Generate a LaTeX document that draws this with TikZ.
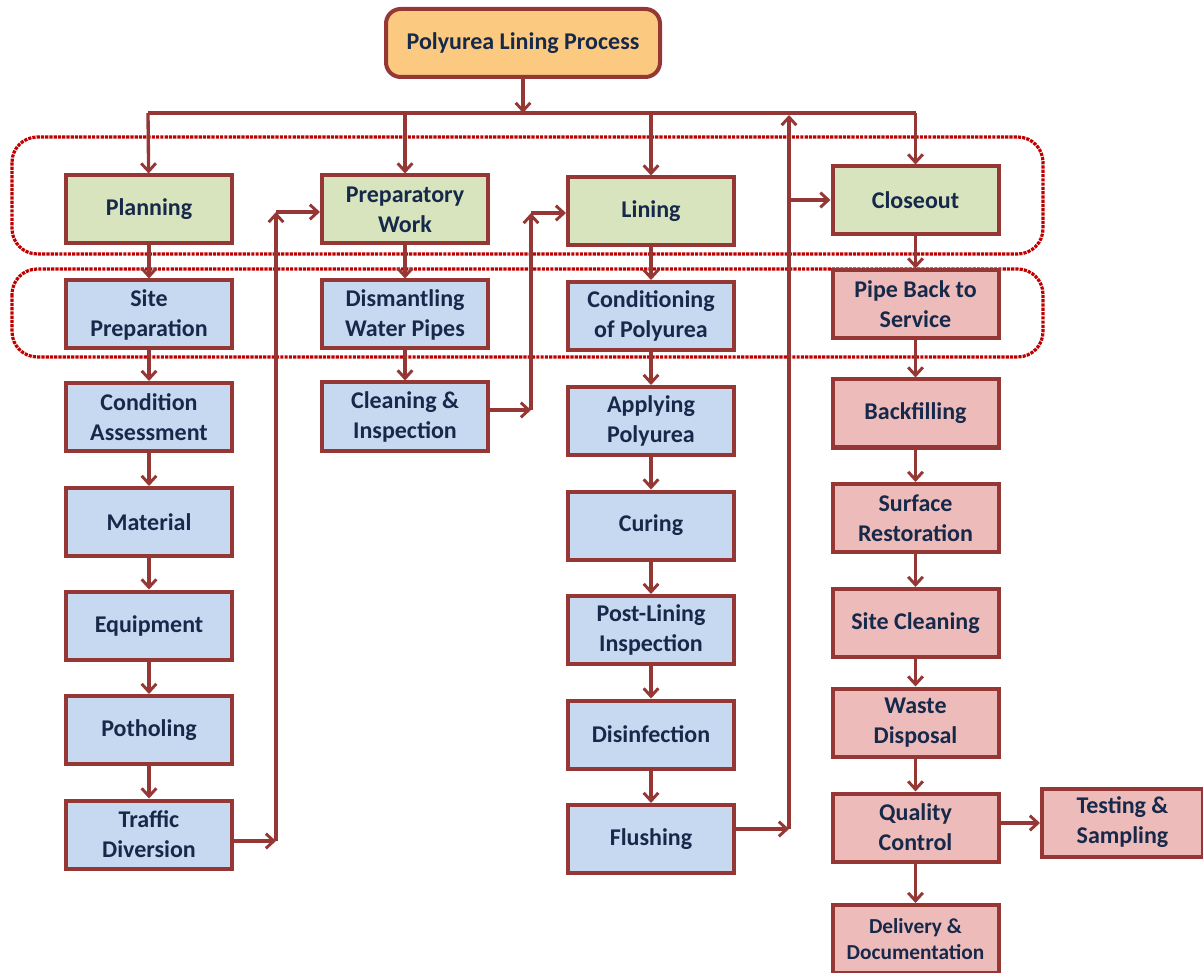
\documentclass[tikz,border=0pt]{standalone}
\usepackage{fontspec}
\setmainfont{Carlito}
\usetikzlibrary{arrows.meta}
\definecolor{bordc}{HTML}{953735}
\definecolor{txtc}{HTML}{17294A}
\definecolor{greenf}{HTML}{D7E4BD}
\definecolor{bluef}{HTML}{C6D9F1}
\definecolor{pinkf}{HTML}{EDBBBA}
\definecolor{orangef}{HTML}{FBC97F}
\definecolor{dotc}{HTML}{C00000}
\tikzset{
  box/.style={draw=bordc, line width=3pt, minimum width=124.5pt, minimum height=51pt,
    align=center, text=txtc, font=\fontsize{18pt}{22.5pt}\selectfont\bfseries, inner sep=2pt},
  gbox/.style={box, fill=greenf},
  bbox/.style={box, fill=bluef},
  pbox/.style={box, fill=pinkf},
  arr/.style={draw=bordc, line width=2.5pt, -{Straight Barb[length=6pt,width=11pt,line width=2.2pt]}},
  ln/.style={draw=bordc, line width=2.5pt},
  grp/.style={draw=dotc, line width=2.4pt, dash pattern=on 2.4pt off 0.8pt, rounded corners=19pt}
}
\begin{document}
\begin{tikzpicture}[x=0.75pt,y=-0.75pt]
\useasboundingbox (0,0) rectangle (1203,973);
% group frames
\draw[grp] (12,137) rectangle (1043,254);
\draw[grp] (12,269) rectangle (1043,357);
% title
\node[box, fill=orangef, rounded corners=11pt, minimum width=205.5pt] (title) at (523,43) {Polyurea Lining Process};
% column 1
\node[gbox] (plan) at (149,209.5) {Planning};
\node[bbox] (site) at (149,314.5) {Site\\Preparation};
\node[bbox] (cond) at (149,417) {Condition\\Assessment};
\node[bbox] (mat) at (149,522) {Material};
\node[bbox] (equip) at (149,625.5) {Equipment};
\node[bbox] (poth) at (149,730) {Potholing};
\node[bbox] (traf) at (149,834.5) {Traffic\\Diversion};
% column 2
\node[gbox] (prep) at (405,209.5) {Preparatory\\Work};
\node[bbox] (dism) at (405,314.5) {Dismantling\\Water Pipes};
\node[bbox] (clean) at (405,416.5) {Cleaning \&\\Inspection};
% column 3
\node[gbox] (lin) at (651,211.5) {Lining};
\node[bbox] (condp) at (651,316) {Conditioning\\of Polyurea};
\node[bbox] (appl) at (651,421) {Applying\\Polyurea};
\node[bbox] (cur) at (651,525.5) {Curing};
\node[bbox] (post) at (651,630) {Post-Lining\\Inspection};
\node[bbox] (disi) at (651,734.5) {Disinfection};
\node[bbox] (flush) at (651,839) {Flushing};
% column 4
\node[gbox] (close) at (915.5,200.5) {Closeout};
\node[pbox] (pipe) at (915.5,304.5) {Pipe Back to\\Service};
\node[pbox] (back) at (915.5,413.5) {Backfilling};
\node[pbox] (surf) at (915.5,518) {Surface\\Restoration};
\node[pbox] (sclean) at (915.5,623) {Site Cleaning};
\node[pbox] (waste) at (915.5,722.5) {Waste\\Disposal};
\node[pbox] (qc) at (915.5,827.5) {Quality\\Control};
\node[pbox, minimum width=120.75pt] (test) at (1122.5,822.5) {Testing \&\\Sampling};
\node[pbox, font=\fontsize{16pt}{19.5pt}\selectfont\bfseries] (deliv) at (915.5,939) {Delivery \&\\Documentation};
% bus
\coordinate (busL) at (148,113);
\coordinate (busM) at (523,113);
\coordinate (busR) at (915.5,113);
\draw[arr] (title) -- (busM);
\draw[ln] (busL) -- (busR);
\draw[arr] (busL) -- (plan);
\draw[arr] (prep.north |- busL) -- (prep);
\draw[arr] (lin.north |- busL) -- (lin);
\draw[arr] (busR) -- (close);
% vertical chains
\draw[arr] (plan) -- (site);
\draw[arr] (site) -- (cond);
\draw[arr] (cond) -- (mat);
\draw[arr] (mat) -- (equip);
\draw[arr] (equip) -- (poth);
\draw[arr] (poth) -- (traf);
\draw[arr] (prep) -- (dism);
\draw[arr] (dism) -- (clean);
\draw[arr] (lin) -- (condp);
\draw[arr] (condp) -- (appl);
\draw[arr] (appl) -- (cur);
\draw[arr] (cur) -- (post);
\draw[arr] (post) -- (disi);
\draw[arr] (disi) -- (flush);
\draw[arr] (close) -- (pipe);
\draw[arr] (pipe) -- (back);
\draw[arr] (back) -- (surf);
\draw[arr] (surf) -- (sclean);
\draw[arr] (sclean) -- (waste);
\draw[arr] (waste) -- (qc);
\draw[arr] (qc) -- (deliv);
\draw[arr] (qc.east |- 0,823) -- (test.west |- 0,823);
% link Traffic -> Preparatory
\coordinate (tA) at (276,841);
\coordinate (tB) at (276,212);
\draw[arr] (traf.east |- tA) -- (tA);
\draw[arr] (tA) -- (tB);
\draw[arr] (tB) -- (prep.west |- tB);
% link Cleaning -> Lining
\coordinate (cA) at (531,410);
\coordinate (cB) at (531,213);
\draw[arr] (clean.east |- cA) -- (cA);
\draw[arr] (cA) -- (cB);
\draw[arr] (cB) -- (lin.west |- cB);
% link Flushing -> Closeout
\coordinate (fA) at (789,829);
\coordinate (fB) at (789,115);
\coordinate (fC) at (789,200);
\draw[arr] (flush.east |- fA) -- (fA);
\draw[arr] (fA) -- (fB);
\draw[arr] (fC) -- (close.west |- fC);
\end{tikzpicture}
\end{document}
